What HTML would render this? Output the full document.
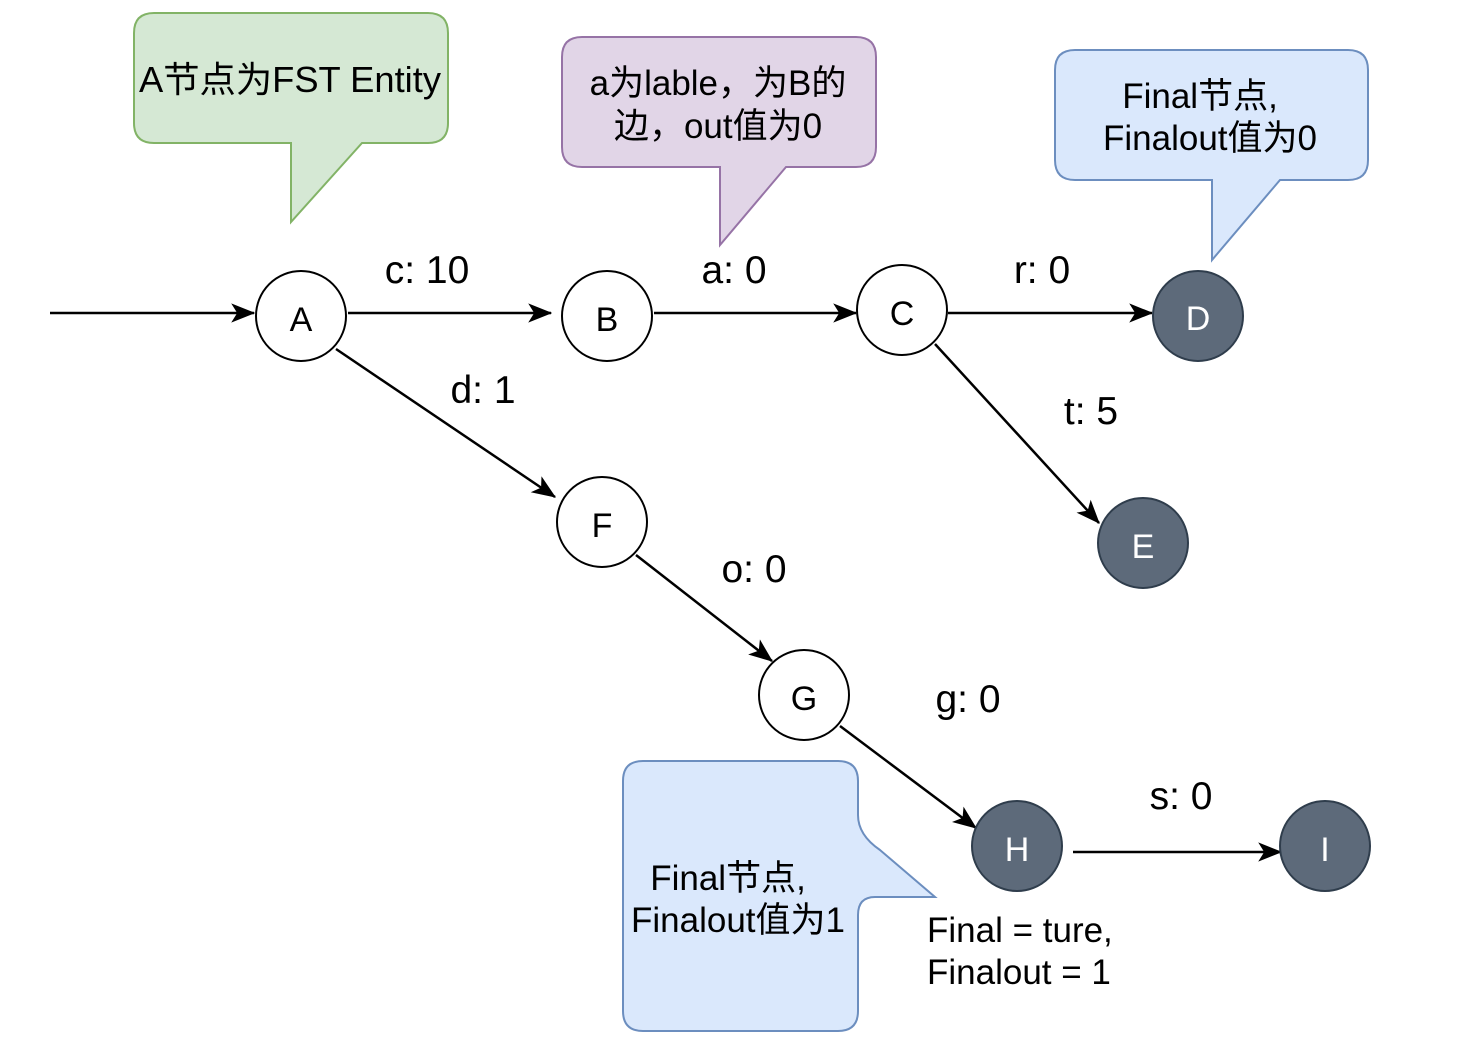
<!DOCTYPE html>
<html><head><meta charset="utf-8"><style>
html,body{margin:0;padding:0;background:#fff;width:1482px;height:1060px;overflow:hidden}
svg text{font-family:"Liberation Sans","Noto Sans CJK SC",sans-serif}
</style></head><body>
<svg width="1482" height="1060" viewBox="0 0 1482 1060" xmlns="http://www.w3.org/2000/svg">
<defs>
<marker id="a" viewBox="0 0 20 16" refX="19" refY="8" markerWidth="24" markerHeight="20" markerUnits="userSpaceOnUse" orient="auto"><path d="M0,0 L20,8 L0,16 L5,8 Z" fill="#000"/></marker>
</defs>
<path d="M154,13 H428 Q448,13 448,33 V123 Q448,143 428,143 H362 L291,222 V143 H154 Q134,143 134,123 V33 Q134,13 154,13 Z" fill="#d5e8d4" stroke="#82b366" stroke-width="2"/>
<text x="290" y="92" font-size="36" text-anchor="middle" textLength="302" lengthAdjust="spacingAndGlyphs">A节点为FST Entity</text>
<path d="M582,37 H856 Q876,37 876,57 V147 Q876,167 856,167 H786 L720,245 V167 H582 Q562,167 562,147 V57 Q562,37 582,37 Z" fill="#e1d5e7" stroke="#9673a6" stroke-width="2"/>
<text x="718" y="95" font-size="35" text-anchor="middle">a为lable，为B的</text>
<text x="718" y="138" font-size="35" text-anchor="middle">边，out值为0</text>
<path d="M1075,50 H1348 Q1368,50 1368,70 V160 Q1368,180 1348,180 H1280 L1212,260 V180 H1075 Q1055,180 1055,160 V70 Q1055,50 1075,50 Z" fill="#dae8fc" stroke="#6c8ebf" stroke-width="2"/>
<text x="1200" y="108" font-size="35" text-anchor="middle">Final节点,</text>
<text x="1210" y="150" font-size="35" text-anchor="middle">Finalout值为0</text>
<path d="M643,761 H838 Q858,761 858,781 V815 Q858,835 880,850 L935,897 H875 Q858,897 858,915 V1011 Q858,1031 838,1031 H643 Q623,1031 623,1011 V781 Q623,761 643,761 Z" fill="#dae8fc" stroke="#6c8ebf" stroke-width="2"/>
<text x="728" y="890" font-size="35" text-anchor="middle">Final节点,</text>
<text x="738" y="932" font-size="35" text-anchor="middle">Finalout值为1</text>
<g stroke="#000" stroke-width="2.5" fill="none">
<line x1="50" y1="313" x2="254" y2="313" marker-end="url(#a)"/>
<line x1="348" y1="313" x2="551" y2="313" marker-end="url(#a)"/>
<line x1="654" y1="313" x2="856" y2="313" marker-end="url(#a)"/>
<line x1="948" y1="313" x2="1152" y2="313" marker-end="url(#a)"/>
<line x1="935" y1="344" x2="1099" y2="523" marker-end="url(#a)"/>
<line x1="336" y1="349" x2="555" y2="497" marker-end="url(#a)"/>
<line x1="636" y1="555" x2="772" y2="661" marker-end="url(#a)"/>
<line x1="840" y1="726" x2="976" y2="828" marker-end="url(#a)"/>
<line x1="1073" y1="852" x2="1281" y2="852" marker-end="url(#a)"/>
</g>
<g stroke="#000" stroke-width="2" fill="#fff">
<circle cx="301" cy="316" r="45"/>
<circle cx="607" cy="316" r="45"/>
<circle cx="902" cy="310" r="45"/>
<circle cx="602" cy="522" r="45"/>
<circle cx="804" cy="695" r="45"/>
</g>
<g stroke="#2f3d4c" stroke-width="2" fill="#5d6a7a">
<circle cx="1198" cy="316" r="45"/>
<circle cx="1143" cy="543" r="45"/>
<circle cx="1017" cy="846" r="45"/>
<circle cx="1325" cy="846" r="45"/>
</g>
<g font-size="34" text-anchor="middle">
<text x="301" y="331">A</text>
<text x="607" y="331">B</text>
<text x="902" y="325">C</text>
<text x="602" y="537">F</text>
<text x="804" y="710">G</text>
</g>
<g font-size="34" text-anchor="middle" fill="#fff">
<text x="1198" y="330">D</text>
<text x="1143" y="558">E</text>
<text x="1017" y="861">H</text>
<text x="1325" y="861">I</text>
</g>
<g font-size="39" text-anchor="middle">
<text x="427" y="283">c: 10</text>
<text x="734" y="283">a: 0</text>
<text x="1042" y="283">r: 0</text>
<text x="1091" y="424">t: 5</text>
<text x="483" y="403">d: 1</text>
<text x="754" y="582">o: 0</text>
<text x="968" y="712">g: 0</text>
<text x="1181" y="809">s: 0</text>
</g>
<text x="927" y="942" font-size="35">Final = ture,</text>
<text x="927" y="984" font-size="35">Finalout = 1</text>
</svg>
</body></html>
